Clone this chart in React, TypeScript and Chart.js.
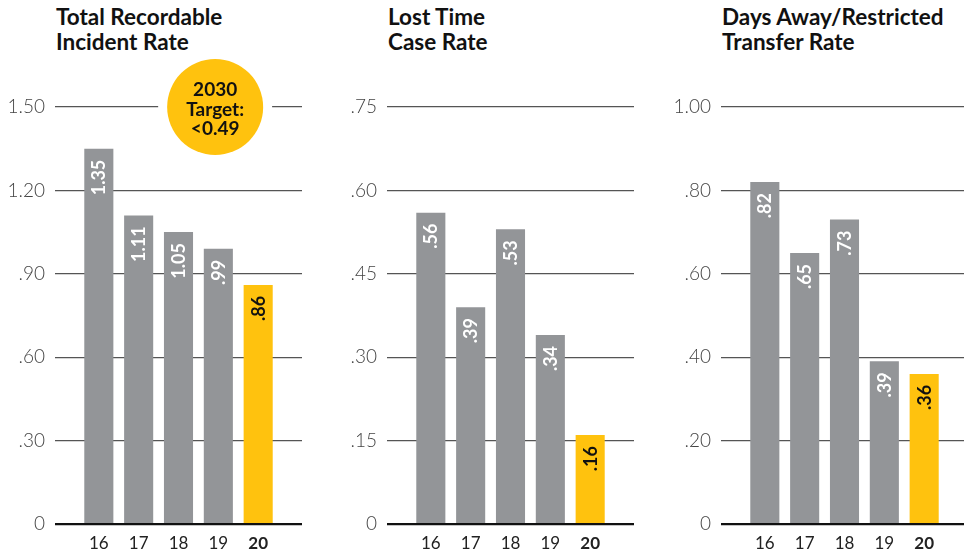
import React, { useEffect, useRef } from 'react';
import { Chart, registerables } from 'chart.js';

Chart.register(...registerables);

const FONT = 'Lato, "Open Sans", sans-serif';

const years = [16, 17, 18, 19, 20];
const trirValues = [1.35, 1.11, 1.05, 0.99, 0.86];
const ltcrValues = [0.56, 0.39, 0.53, 0.34, 0.16];
const dartValues = [0.82, 0.65, 0.73, 0.39, 0.36];

const trirTicks = [0, 0.3, 0.6, 0.9, 1.2, 1.5];
const ltcrTicks = [0, 0.15, 0.3, 0.45, 0.6, 0.75];
const dartTicks = [0, 0.2, 0.4, 0.6, 0.8, 1.0];

const trirTitle = ['Total Recordable', 'Incident Rate'];
const ltcrTitle = ['Lost Time', 'Case Rate'];
const dartTitle = ['Days Away/Restricted', 'Transfer Rate'];

const targetText = ['2030', 'Target:', '<0.49'];
const targetAt = { x: 18.92, y: 1.5 };

const GRAY = '#939598';
const YELLOW = '#FFC20E';

const fmt = (v: number) =>
  v === 0 ? '0' : v >= 1 ? v.toFixed(2) : v.toFixed(2).replace(/^0/, '');

const barLabels = {
  id: 'barLabels',
  afterDatasetsDraw(chart: any) {
    const meta = chart.getDatasetMeta(0);
    const ds = chart.data.datasets[0];
    const ctx = chart.ctx;
    meta.data.forEach((bar: any, i: number) => {
      const v = ds.data[i].y;
      ctx.save();
      ctx.translate(bar.x, bar.y + 11);
      ctx.rotate(-Math.PI / 2);
      ctx.textAlign = 'right';
      ctx.textBaseline = 'alphabetic';
      ctx.font = `bold 18px ${FONT}`;
      ctx.fillStyle = i === years.length - 1 ? '#111' : '#fff';
      ctx.fillText(fmt(v), 0, 6.5);
      ctx.restore();
    });
  },
};

const targetPlugin = {
  id: 'targetBadge',
  afterDatasetsDraw(chart: any, _args: any, opts: any) {
    if (!opts || !opts.show) return;
    const ctx = chart.ctx;
    const cx = chart.scales.x.getPixelForValue(targetAt.x);
    const cy = chart.scales.y.getPixelForValue(targetAt.y);
    ctx.save();
    ctx.beginPath();
    ctx.arc(cx, cy, 57, 0, Math.PI * 2);
    ctx.fillStyle = '#fff';
    ctx.fill();
    ctx.beginPath();
    ctx.arc(cx, cy, 48, 0, Math.PI * 2);
    ctx.fillStyle = YELLOW;
    ctx.fill();
    ctx.fillStyle = '#111';
    ctx.font = `bold 19px ${FONT}`;
    ctx.textAlign = 'center';
    ctx.textBaseline = 'alphabetic';
    targetText.forEach((t, i) => {
      ctx.fillText(t, cx, cy - 11 + i * 19.5);
    });
    ctx.restore();
  },
};

type PanelProps = {
  values: number[];
  ticks: number[];
  title: string[];
  left: number;
  width: number;
  target?: boolean;
};

function Panel({ values, ticks, title, left, width, target }: PanelProps) {
  const ref = useRef<HTMLCanvasElement | null>(null);
  useEffect(() => {
    if (!ref.current) return;
    const chart = new Chart(ref.current, {
      type: 'bar',
      data: {
        datasets: [
          {
            data: years.map((y, i) => ({ x: y, y: values[i] })) as any,
            backgroundColor: years.map((_, i) => (i === years.length - 1 ? YELLOW : GRAY)),
            borderWidth: 0,
            categoryPercentage: 1,
            barPercentage: 0.73,
          },
        ],
      },
      options: {
        animation: false,
        responsive: false,
        devicePixelRatio: 1,
        layout: { padding: { top: 107, left: 0, right: 0, bottom: 0 } },
        plugins: {
          legend: { display: false },
          tooltip: { enabled: false },
          targetBadge: { show: !!target },
        } as any,
        scales: {
          x: {
            type: 'linear',
            offset: false,
            min: 14.9,
            max: 21.1,
            afterBuildTicks: (s: any) => {
              s.ticks = years.map((v) => ({ value: v }));
            },
            afterFit: (s: any) => {
              s.height = 29;
            },
            grid: { display: false, drawTicks: false },
            border: { display: false },
            ticks: {
              padding: 9,
              color: '#222',
              autoSkip: false,
              maxRotation: 0,
              callback: (v: any) => String(v),
              font: (c: any) => ({
                family: FONT,
                size: 17,
                weight: c.tick && c.tick.value === years[years.length - 1] ? 'bold' : 'normal',
              }),
            },
          },
          y: {
            min: 0,
            max: ticks[ticks.length - 1],
            afterBuildTicks: (s: any) => {
              s.ticks = ticks.map((v) => ({ value: v }));
            },
            afterFit: (s: any) => {
              s.width = 55;
            },
            border: { display: false },
            grid: {
              drawTicks: false,
              color: (c: any) => (c.tick && c.tick.value === 0 ? '#111' : '#555'),
              lineWidth: (c: any) => (c.tick && c.tick.value === 0 ? 2.2 : 1.3),
            },
            ticks: {
              padding: 10,
              color: '#444',
              font: { family: FONT, size: 19, weight: '300' as any },
              callback: (v: any) => fmt(Number(v)),
            },
          },
        },
      } as any,
      plugins: [barLabels, targetPlugin],
    });
    return () => chart.destroy();
  }, []);

  return (
    <div style={{ position: 'absolute', left, top: 0, width, height: 553 }}>
      <div
        style={{
          position: 'absolute',
          left: 56,
          top: 4,
          fontFamily: FONT,
          fontWeight: 700,
          fontSize: 22.5,
          lineHeight: '25px',
          color: '#111',
          whiteSpace: 'nowrap',
        }}
      >
        {title.map((t, i) => (
          <div key={i}>{t}</div>
        ))}
      </div>
      <canvas ref={ref} width={width} height={553} style={{ position: 'absolute', left: 0, top: 0 }} />
    </div>
  );
}

export default function App() {
  return (
    <div
      style={{
        position: 'fixed',
        left: 0,
        top: 0,
        width: 964,
        height: 553,
        background: '#fff',
        overflow: 'hidden',
      }}
    >
      <Panel values={trirValues} ticks={trirTicks} title={trirTitle} left={0} width={302} target />
      <Panel values={ltcrValues} ticks={ltcrTicks} title={ltcrTitle} left={332} width={302} />
      <Panel values={dartValues} ticks={dartTicks} title={dartTitle} left={666} width={302} />
    </div>
  );
}
